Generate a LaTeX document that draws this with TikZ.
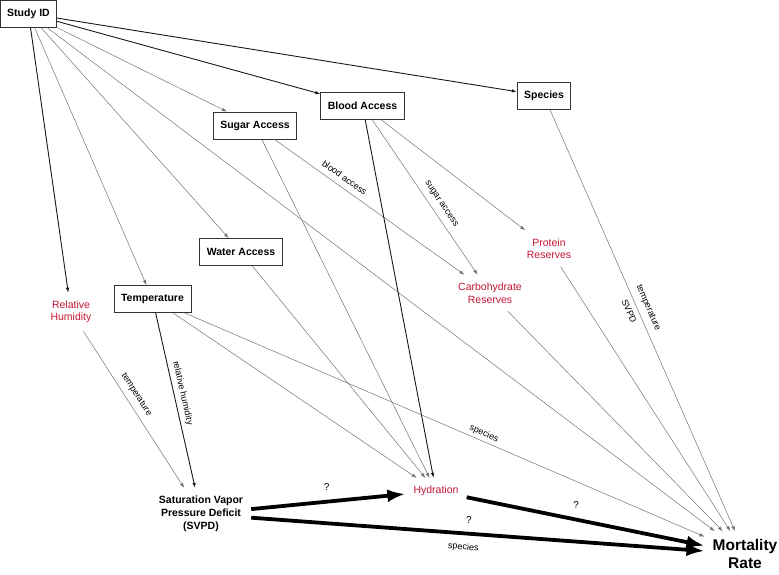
\documentclass[tikz,border=0pt]{standalone}
\usepackage{fontspec}
\setmainfont{Liberation Sans}
\usepackage{tikz}
\usetikzlibrary{arrows.meta}
\definecolor{latred}{RGB}{196,22,52}

\begin{document}
\begin{tikzpicture}[x=1pt,y=-1pt,
		var/.style={draw=black!80,line width=0.8pt,fill=white,font=\fontsize{10.5}{12}\selectfont\bfseries,inner xsep=7pt,minimum height=27pt},
		unobs/.style={text=latred,font=\fontsize{10.5}{12.5}\selectfont,align=center,inner sep=8pt},
		outc/.style={font=\fontsize{10.5}{13}\selectfont\bfseries,align=center,inner sep=8pt},
		arr/.style={-{Latex[length=5pt,width=3.5pt]},draw=black!55,line width=0.5pt},
		darr/.style={-{Latex[length=5pt,width=3.5pt]},draw=black!90,line width=0.9pt},
		fat/.style={-{Latex[length=18pt,width=13pt]},draw=black,line width=3.8pt},
		lbl/.style={font=\fontsize{9}{10}\selectfont,sloped,inner sep=2pt},
		qm/.style={font=\fontsize{10}{12}\selectfont,inner sep=2pt}]
		\useasboundingbox (0,0) rectangle (779,574);
		% measured variables
		\node(study)   [var] at (28.5,13.5)  {Study ID};
		\node(species) [var] at (544,96)     {Species};
		\node(blood)   [var] at (362.5,105.5) {Blood Access};
		\node(sugar)   [var] at (255,125.5)  {Sugar Access};
		\node(water)   [var] at (241,252)    {Water Access};
		\node(temp)    [var] at (152.5,299)  {Temperature};
		% unobserved
		\node(rh)      [unobs] at (71,312)    {Relative\\Humidity};
		\node(protein) [unobs] at (549,248.5) {Protein\\Reserves};
		\node(carb)    [unobs] at (490,293)   {Carbohydrate\\Reserves};
		\node(hydr)    [unobs] at (436,491)   {Hydration};
		% exposure and outcome
		\node(svpd)    [outc] at (201,514) {Saturation Vapor\\Pressure Deficit\\(SVPD)};
		\node(mort)    [outc,font=\fontsize{15.5}{18}\selectfont\bfseries] at (745,554) {Mortality\\Rate};
		\path
			(study) edge[darr] (species)
			(study) edge[darr] (blood)
			(study) edge[arr] (sugar)
			(study) edge[arr] (water)
			(study) edge[arr] (temp)
			(study) edge[darr] (rh)
			(study) edge[arr] (mort)
			(sugar) edge[arr] node[lbl,above=4pt,pos=.34] {blood access} (carb)
			(sugar) edge[arr] (hydr)
			(blood) edge[arr] node[lbl,above=4pt,pos=.58] {sugar access} (carb)
			(blood) edge[arr] (protein)
			(blood) edge[darr] (hydr)
			(water) edge[arr] (hydr)
			(temp) edge[arr] (hydr)
			(temp) edge[arr] node[lbl,above=1pt,pos=.57] {species} (mort)
			(temp) edge[darr] node[lbl,above=2pt,pos=.47] {relative humidity} (svpd)
			(rh) edge[arr] node[lbl,above=4pt,pos=.44] {temperature} (svpd)
			(species) edge[arr] node[lbl,above=4pt,pos=.48] {temperature} node[lbl,below=3pt,pos=.47] {SVPD} (mort)
			(protein) edge[arr] (mort)
			(carb) edge[arr] (mort);
		% main paths
		\path
			(svpd) edge[fat] node[qm,above=7pt,pos=.49] {?} (hydr)
			(svpd) edge[fat] node[qm,above=6pt,pos=.48] {?} node[lbl,below=6pt,pos=.47] {species} (mort)
			(hydr) edge[fat] node[qm,above=7pt,pos=.46] {?} (mort);
\end{tikzpicture}
\end{document}
